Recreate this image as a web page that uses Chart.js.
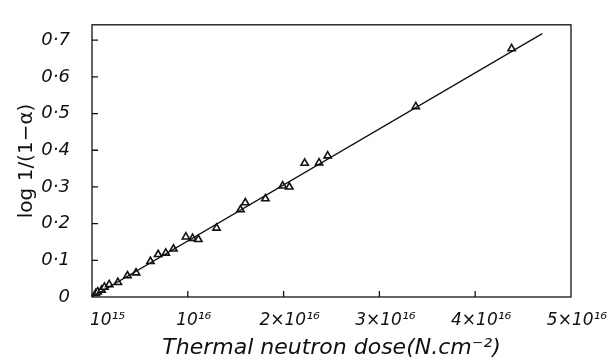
<!DOCTYPE html>
<html>
<head>
<meta charset="utf-8">
<script src="https://cdn.jsdelivr.net/npm/chart.js@4.4.1/dist/chart.umd.min.js"></script>
<style>
  html, body { margin: 0; padding: 0; background: #fff; }
  #wrap { width: 610px; height: 362px; }
</style>
</head>
<body>
<div id="wrap"><canvas id="doseChart"></canvas></div>
<script>
// dose in units of 10^16 N cm^-2
const doseValues = [0.04, 0.06, 0.10, 0.13, 0.18, 0.27, 0.37, 0.46, 0.61, 0.69, 0.77, 0.85,
                    0.98, 1.05, 1.11, 1.30, 1.55, 1.60, 1.81, 1.99, 2.06, 2.22, 2.37, 2.46, 3.38, 4.38];
const logValues = [0.010, 0.014, 0.019, 0.027, 0.034, 0.040, 0.058, 0.066, 0.097, 0.116, 0.120, 0.131,
                   0.164, 0.160, 0.157, 0.188, 0.238, 0.257, 0.268, 0.303, 0.300, 0.365, 0.366, 0.385, 0.519, 0.677];
// fitted straight line
const fitDose = [0, 4.70];
const fitLog = [0, 0.718];

const xTicks = [0.1, 1, 2, 3, 4, 5];
const xTickLabels = ['10¹⁵', '10¹⁶', '2×10¹⁶', '3×10¹⁶', '4×10¹⁶', '5×10¹⁶'];
const yTicks = [0, 0.1, 0.2, 0.3, 0.4, 0.5, 0.6, 0.7];
const yTickLabels = ['0', '0·1', '0·2', '0·3', '0·4', '0·5', '0·6', '0·7'];
const xMarks = [1, 2, 3, 4];
const yMarks = [0.1, 0.2, 0.3, 0.4, 0.5, 0.6, 0.7];

const ink = '#111';

// frame round the plot and short inward tick marks
const frameTicks = {
    id: 'frameTicks',
    afterDatasetsDraw(chart) {
        const ctx = chart.ctx;
        const a = chart.chartArea;
        const xs = chart.scales.x, ys = chart.scales.y;
        ctx.save();
        ctx.strokeStyle = ink;
        ctx.lineWidth = 1.3;
        ctx.strokeRect(a.left, a.top, a.right - a.left, a.bottom - a.top);
        ctx.beginPath();
        xMarks.forEach(v => {
            const px = xs.getPixelForValue(v);
            ctx.moveTo(px, a.bottom);
            ctx.lineTo(px, a.bottom - 6);
        });
        yMarks.forEach(v => {
            const py = ys.getPixelForValue(v);
            ctx.moveTo(a.left, py);
            ctx.lineTo(a.left + 6, py);
        });
        ctx.stroke();
        ctx.restore();
    }
};

const ctx = document.getElementById('doseChart').getContext('2d');
new Chart(ctx, {
    type: 'scatter',
    data: {
        datasets: [
            {
                type: 'line',
                data: fitDose.map((x, i) => ({ x: x, y: fitLog[i] })),
                borderColor: ink,
                borderWidth: 1.3,
                pointRadius: 0,
                fill: false
            },
            {
                data: doseValues.map((x, i) => ({ x: x, y: logValues[i] })),
                pointStyle: 'triangle',
                pointRadius: 4.2,
                pointBackgroundColor: '#fff',
                pointBorderColor: ink,
                pointBorderWidth: 1.6,
                clip: false
            }
        ]
    },
    options: {
        responsive: true,
        maintainAspectRatio: false,
        animation: false,
        layout: { padding: { left: 0, right: 39, top: 12, bottom: 0 } },
        plugins: { legend: { display: false }, tooltip: { enabled: false } },
        scales: {
            x: {
                type: 'linear',
                min: 0,
                max: 5,
                afterFit: s => { s.height = 65; },
                afterBuildTicks: s => { s.ticks = xTicks.map(v => ({ value: v })); },
                grid: { display: false },
                border: { display: false },
                ticks: {
                    color: ink,
                    padding: 5,
                    labelOffset: 6,
                    maxRotation: 0,
                    autoSkip: false,
                    font: { family: 'DejaVu Sans', size: 17, style: 'italic' },
                    callback: (v, i) => xTickLabels[i]
                },
                title: {
                    display: true,
                    text: 'Thermal neutron dose(N.cm⁻²)',
                    color: ink,
                    padding: { top: 0, bottom: 1 },
                    font: { family: 'DejaVu Sans', size: 22, style: 'italic' }
                }
            },
            y: {
                min: 0,
                max: 0.742,
                afterFit: s => { s.width = 92; },
                afterBuildTicks: s => { s.ticks = yTicks.map(v => ({ value: v })); },
                grid: { display: false },
                border: { display: false },
                ticks: {
                    color: ink,
                    padding: 14,
                    autoSkip: false,
                    font: { family: 'DejaVu Sans', size: 18, style: 'italic' },
                    callback: (v, i) => yTickLabels[i]
                },
                title: {
                    display: true,
                    text: 'log 1/(1−α)',
                    color: ink,
                    padding: { top: 15, bottom: 0 },
                    font: { family: 'DejaVu Sans', size: 20 }
                }
            }
        }
    },
    plugins: [frameTicks]
});
</script>
</body>
</html>
